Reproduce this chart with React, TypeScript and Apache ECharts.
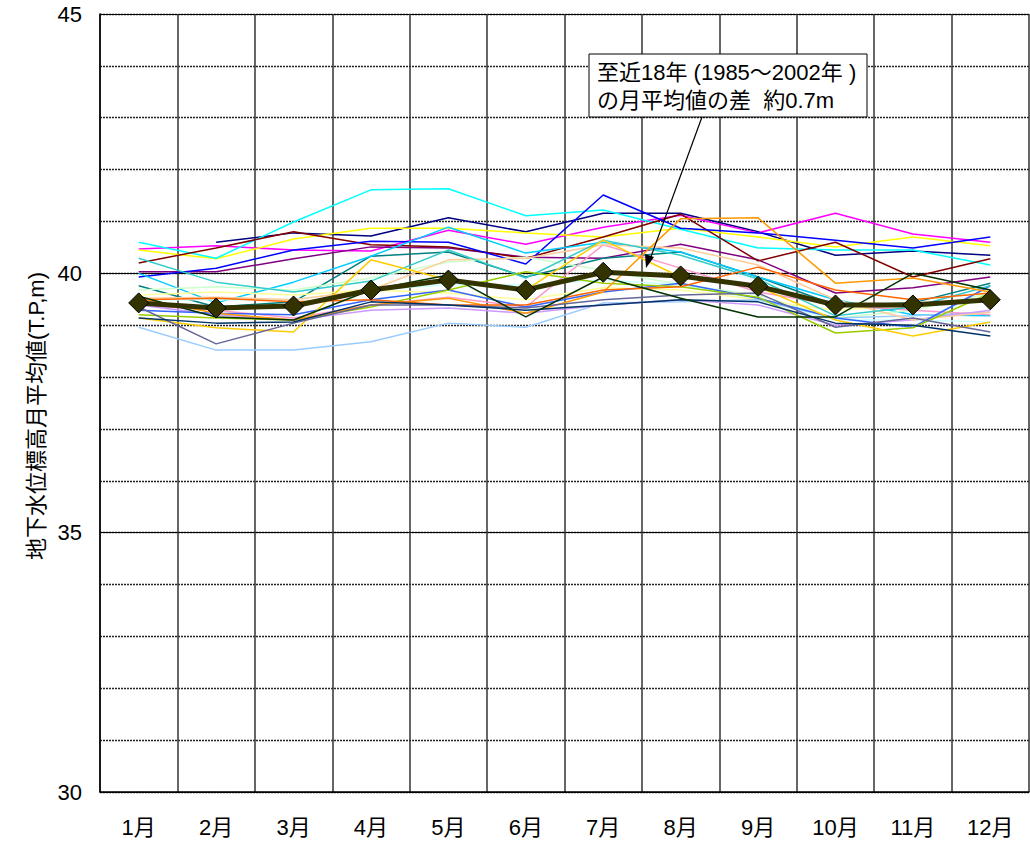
import React, { useEffect, useRef } from "react";
import * as echarts from "echarts";

const months = ["1月", "2月", "3月", "4月", "5月", "6月", "7月", "8月", "9月", "10月", "11月", "12月"];

const sCyan = [40.6, 40.29, 40.99, 41.61, 41.63, 41.11, 41.22, 40.85, 40.49, 40.45, 40.45, 40.16];
const sNavy = [null, 40.6, 40.78, 40.72, 41.07, 40.8, 41.16, 41.16, 40.8, 40.35, 40.43, 40.35];
const sBlue = [39.93, 40.1, 40.45, 40.62, 40.6, 40.18, 41.51, 40.87, 40.78, 40.64, 40.49, 40.7];
const sMagenta = [40.47, 40.53, 40.45, 40.43, 40.83, 40.56, 40.89, 41.12, 40.78, 41.16, 40.76, 40.6];
const sYellow = [40.45, 40.28, 40.66, 40.87, 40.87, 40.78, 40.7, 40.87, 40.7, 40.51, 40.7, 40.53];
const sMaroon = [40.2, 40.49, 40.8, 40.55, 40.51, 40.29, 40.7, 41.14, 40.24, 40.6, 39.93, 40.28];
const sPurple = [40.03, 40.03, 40.28, 40.51, 40.49, 40.31, 40.29, 40.56, 40.26, 39.62, 39.72, 39.93];
const sTeal = [39.76, 39.35, 39.45, 40.33, 40.41, 39.93, 40.29, 40.41, 39.93, 39.39, 39.43, 39.81];
const sTurquoise = [40.29, 39.83, 39.64, 39.85, 40.45, 39.91, 40.64, 40.35, 39.89, 39.18, 39.35, 39.76];
const sDeepSky = [40.0, 39.43, 39.83, 40.33, 40.89, 40.39, 40.6, 40.41, 39.93, 39.49, 39.2, 39.18];
const sLightCyan = [39.49, 39.49, 39.49, 39.68, 39.78, 39.78, 39.87, 39.78, 39.49, 39.1, 39.1, 39.06];
const sLightGreen = [39.68, 39.74, 39.68, 39.91, 40.22, 40.31, 40.06, 39.78, 39.58, 39.14, 39.29, 39.62];
const sLightYellow = [39.58, 39.64, 39.58, 39.68, 39.62, 39.49, 39.72, 39.68, 39.49, 39.29, 39.39, 39.49];
const sPeach = [39.52, 39.54, 39.49, 39.68, 40.26, 40.29, 40.55, 40.49, 40.16, 39.49, 39.1, 39.25];
const sPink = [39.39, 39.29, 39.14, 39.39, 39.54, 39.35, 40.55, 40.1, 39.64, 39.39, 39.29, 39.2];
const sLavender = [39.39, 39.2, 39.1, 39.29, 39.33, 39.23, 39.39, 39.49, 39.39, 39.0, 39.1, 39.29];
const sRoyalBlue = [39.29, 39.23, 39.2, 39.49, 39.68, 39.35, 39.64, 39.81, 39.52, 39.14, 38.96, 39.76];
const sSlate = [39.35, 38.64, 39.04, 39.39, 39.39, 39.33, 39.49, 39.58, 39.62, 38.96, 39.14, 38.87];
const sLightSky = [38.96, 38.52, 38.52, 38.68, 39.04, 38.96, 39.43, 39.45, 39.49, 39.14, 39.18, 39.25];
const sDarkTeal = [39.14, 39.04, 39.06, 39.45, 39.39, 39.29, 39.39, 39.49, 39.45, 39.04, 39.0, 38.79];
const sDarkGreen = [39.56, 39.16, 39.1, 39.68, 39.97, 39.16, 39.93, 39.52, 39.16, 39.16, 40.0, 39.68];
const sYellowGreen = [39.2, 39.14, 39.1, 39.35, 39.68, 40.03, 39.81, 39.74, 39.54, 38.85, 38.95, 39.62];
const sGold = [39.14, 38.95, 38.87, 40.26, 39.87, 39.68, 40.64, 39.93, 39.74, 39.1, 38.79, 39.06];
const sOrange = [39.52, 39.23, 39.1, 39.39, 39.52, 39.23, 39.64, 41.05, 41.07, 39.81, 39.91, 39.64];
const sDarkOrange = [39.49, 39.52, 39.45, 39.49, 39.39, 39.39, 39.68, 39.74, 40.12, 39.68, 39.49, 39.62];

const average = [39.43, 39.33, 39.37, 39.68, 39.87, 39.68, 40.02, 39.95, 39.75, 39.39, 39.39, 39.49];

const yearSeries: [string, (number | null)[], string][] = [
  ["系列1", sNavy, "#000080"],
  ["系列2", sMagenta, "#FF00FF"],
  ["系列3", sYellow, "#FFFF00"],
  ["系列4", sCyan, "#00FFFF"],
  ["系列5", sPurple, "#800080"],
  ["系列6", sMaroon, "#800000"],
  ["系列7", sTeal, "#008080"],
  ["系列8", sBlue, "#0000FF"],
  ["系列9", sDeepSky, "#00CCFF"],
  ["系列10", sLightCyan, "#CCFFFF"],
  ["系列11", sLightGreen, "#CCFFCC"],
  ["系列12", sLightYellow, "#FFFF99"],
  ["系列13", sLightSky, "#99CCFF"],
  ["系列14", sPink, "#FF99CC"],
  ["系列15", sLavender, "#CC99FF"],
  ["系列16", sPeach, "#FFCC99"],
  ["系列17", sRoyalBlue, "#3366FF"],
  ["系列18", sTurquoise, "#33CCCC"],
  ["系列19", sYellowGreen, "#99CC00"],
  ["系列20", sGold, "#FFCC00"],
  ["系列21", sOrange, "#FF9900"],
  ["系列22", sDarkOrange, "#FF6600"],
  ["系列23", sSlate, "#666699"],
  ["系列24", sDarkTeal, "#003366"],
  ["系列25", sDarkGreen, "#003300"],
];

const FONT = "'Liberation Sans', Arial, 'Noto Sans CJK JP', sans-serif";

export default function App() {
  const ref = useRef<HTMLDivElement>(null);
  useEffect(() => {
    if (!ref.current) return;
    const chart = echarts.init(ref.current, undefined, { renderer: "svg" });
    const series: any[] = yearSeries.map(([name, data, color]) => ({
      name,
      type: "line",
      data: data.map((v) => (v === null ? "-" : v)),
      symbol: "none",
      lineStyle: { color, width: 1.5 },
      itemStyle: { color },
      z: 2,
    }));
    series.push({
      name: "平均",
      type: "line",
      data: average,
      symbol: "diamond",
      symbolSize: 20,
      lineStyle: { color: "#333300", width: 5 },
      itemStyle: { color: "#333300", borderColor: "#000", borderWidth: 1 },
      z: 5,
    });
    chart.setOption({
      animation: false,
      backgroundColor: "#fff",
      textStyle: { fontFamily: FONT },
      grid: { left: 100, right: 1, top: 14, bottom: 49, containLabel: false },
      xAxis: {
        type: "category",
        data: months,
        boundaryGap: true,
        axisLine: { show: true, lineStyle: { color: "#000", width: 1.5 } },
        axisTick: { show: false },
        axisLabel: { color: "#000", fontSize: 22, margin: 24, fontFamily: FONT },
        splitLine: { show: true, lineStyle: { color: "#333", width: 1.5 } },
      },
      yAxis: [
        {
          type: "value",
          min: 30,
          max: 45,
          interval: 1,
          axisLine: { show: true, lineStyle: { color: "#000", width: 1.5 } },
          axisTick: { show: false },
          axisLabel: { show: false },
          splitLine: { show: true, lineStyle: { color: "#222", width: 1.3, type: [2, 1] } },
          name: "地下水位標高月平均値(T.P,m)",
          nameLocation: "middle",
          nameGap: 53,
          nameRotate: 90,
          nameTextStyle: { color: "#000", fontSize: 22, fontFamily: FONT, padding: [0, 26, 0, 0] },
        },
        {
          type: "value",
          min: 30,
          max: 45,
          interval: 5,
          position: "left",
          axisLine: { show: false },
          axisTick: { show: false },
          axisLabel: { color: "#000", fontSize: 22, margin: 18, fontFamily: FONT },
          splitLine: { show: true, lineStyle: { color: "#000", width: 1 } },
        },
      ],
      series,
      graphic: [
        {
          type: "line",
          shape: { x1: 702, y1: 117, x2: 649, y2: 262 },
          style: { stroke: "#000", lineWidth: 1.2 },
          z: 100,
        },
        {
          type: "polygon",
          shape: { points: [[646, 268], [645, 254], [654, 257]] },
          style: { fill: "#000" },
          z: 100,
        },
        {
          type: "rect",
          shape: { x: 589, y: 54, width: 278, height: 63 },
          style: { fill: "#fff", stroke: "#000", lineWidth: 1 },
          z: 100,
        },
        {
          type: "text",
          x: 597,
          y: 58,
          style: {
            text: "至近18年 (1985～2002年 )\nの月平均値の差  約0.7m",
            fontSize: 22,
            lineHeight: 28,
            fill: "#000",
            fontFamily: FONT,
          },
          z: 101,
        },
      ],
    });
    return () => chart.dispose();
  }, []);
  return (
    <div
      ref={ref}
      style={{ position: "absolute", left: 0, top: 0, width: 1030, height: 841 }}
    />
  );
}
